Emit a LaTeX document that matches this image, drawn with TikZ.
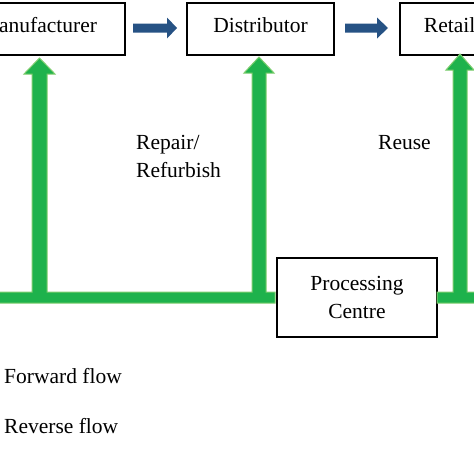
\documentclass[tikz,border=0pt]{standalone}
\usepackage{fontspec}
\setmainfont{Liberation Serif}
\usetikzlibrary{calc}
\definecolor{revgreen}{RGB}{30,178,76}
\definecolor{revedge}{RGB}{125,205,110}
\definecolor{fwdblue}{RGB}{38,82,132}
\begin{document}
\begin{tikzpicture}[x=1pt,y=-1pt,
  font=\fontsize{21.5}{28}\selectfont,
  boxbase/.style={draw=black,line width=1.5pt,rectangle,inner sep=0pt},
  box/.style={boxbase,minimum height=52pt,text height=15pt,text depth=9pt},
  lbl/.style={inner sep=0pt},
  revflow/.style={fill=revgreen,draw=revedge,line width=1pt,line join=miter},
  fwdflow/.style={fill=fwdblue}]
\useasboundingbox (0,0) rectangle (474,474);
\clip (0,0) rectangle (474,474);

% boxes
\node[box,minimum width=173pt] (man) at (38.5,29) {Manufacturer};
\node[box,minimum width=147pt] (dist) at (260.5,29) {Distributor};
\node[box,minimum width=116pt] (ret) at (458,29) {Retailer};
\node[boxbase,minimum width=160pt,minimum height=79pt,align=center] (proc) at (357,297.5) {Processing\\Centre};

% forward flow (blue arrows)
\fill[fwdflow] ($(man.east)+(7.25,-5.5)$) -- ++(34,0) -- ++(0,-6) -- ++(10,10.5) -- ++(-10,10.5) -- ++(0,-6) -- ++(-34,0) -- cycle;
\fill[fwdflow] ($(dist.east)+(10.25,-5.5)$) -- ++(32,0) -- ++(0,-6) -- ++(11,10.5) -- ++(-11,10.5) -- ++(0,-6) -- ++(-32,0) -- cycle;

% reverse flow (green network)
\path[revflow] (-5,303) -- (275,303) -- (275,292) -- (266,292) -- (266,73) -- (274,73) -- (259,57) -- (244,73) -- (252,73) -- (252,292) -- (47,292) -- (47,74) -- (55,74) -- (39.5,58) -- (24,74) -- (32,74) -- (32,292) -- (-5,292) -- cycle;
\path[revflow] (437,303) -- (480,303) -- (480,292) -- (467,292) -- (467,70) -- (474,70) -- (460,54) -- (446,70) -- (453,70) -- (453,292) -- (437,292) -- cycle;

% labels
\node[lbl,anchor=north west,align=left] (repair) at (136,135.5) {Repair/\\Refurbish};
\node[lbl,anchor=base west] (reuse) at (378,149) {Reuse};
\node[lbl,anchor=base west] (fwd) at (4,383) {Forward flow};
\node[lbl,anchor=base west] (rev) at (4,433) {Reverse flow};
\end{tikzpicture}
\end{document}
